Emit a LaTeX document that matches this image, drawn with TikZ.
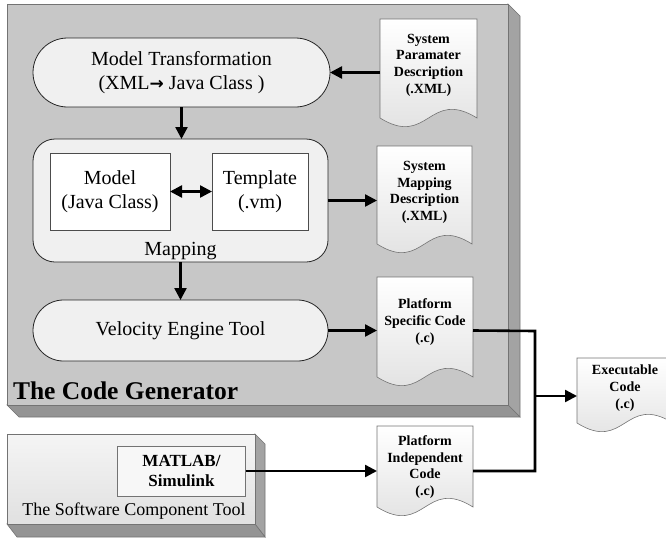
\documentclass[tikz,border=0pt]{standalone}
\usepackage{fontspec}
\setmainfont{Liberation Serif}
\newfontfamily\symfont{DejaVu Sans}
\usetikzlibrary{arrows.meta}

% document symbol with a wavy lower edge: left, top, right, wave line
\newcommand\docframe[4]{%
  \draw[docshape] (#1,#2) -- (#1,#4)
    .. controls ({(#1+#3)/2},{#4+30}) and ({(#1+#3)/2},{#4-30}) .. (#3,#4)
    -- (#3,#2) -- cycle;}

\begin{document}
\begin{tikzpicture}[x=1pt,y=-1pt,
  every node/.style={inner sep=0pt, outer sep=0pt},
  edgegray/.style={draw=black!55, line width=0.6pt},
  docshape/.style={edgegray, top color=white, bottom color=black!13},
  process/.style={draw=black!85, line width=0.8pt, fill=black!6,
    font=\fontsize{20}{24}\selectfont, align=center},
  plainbox/.style={draw=black!70, line width=0.7pt, fill=white,
    font=\fontsize{20}{24}\selectfont, align=center},
  doctext/.style={font=\bfseries\fontsize{14}{16.7}\selectfont, align=center},
  arr/.style={line width=2.4pt, -{Triangle[length=12pt,width=12pt]}},
  darr/.style={line width=2.4pt, {Triangle[length=12pt,width=12pt]}-{Triangle[length=12pt,width=12pt]}},
  wire/.style={line width=2.6pt}
]
\useasboundingbox (0,0) rectangle (666,538);

% ---- code generator block (3-D box) ----
\draw[edgegray, fill=black!36] (508,4) -- (520,16) -- (520,417) -- (508,405) -- cycle;
\draw[edgegray, fill=black!42] (7,405) -- (19,417) -- (520,417) -- (508,405) -- cycle;
\draw[edgegray, fill=black!22] (7,4) rectangle (508,405);

% ---- software component tool block (3-D box) ----
\draw[edgegray, fill=black!36] (255,434) -- (265,444) -- (265,537) -- (255,524) -- cycle;
\draw[edgegray, fill=black!42] (7,524) -- (17,537) -- (265,537) -- (255,524) -- cycle;
\draw[edgegray, top color=black!4, bottom color=black!12] (7,434) rectangle (255,524);

% ---- document outlines ----
\docframe{380}{19}{477}{118}
\docframe{377}{146}{472}{244}
\docframe{377}{277}{473}{377}
\docframe{577}{358}{673}{423}
\docframe{377}{426}{473}{507}

% ---- process nodes ----
\node[process, rounded corners=34.5pt, minimum width=297pt, minimum height=69pt]
  (mt) at (181.5,72.5) {Model Transformation\\(XML{\symfont\bfseries\fontsize{17}{20}\selectfont →} Java Class )};
\node[process, rounded corners=22pt, minimum width=295pt, minimum height=123pt]
  (map) at (180.5,200.5) {};
\node[plainbox, minimum width=120pt, minimum height=77pt]
  (model) at (110,191.5) {Model\\(Java Class)};
\node[plainbox, minimum width=96pt, minimum height=77pt]
  (tmpl) at (260,191.5) {Template\\(.vm)};
\node[anchor=base, font=\fontsize{20}{24}\selectfont] (maplbl) at (180.5,255) {Mapping};
\node[process, rounded corners=30.5pt, minimum width=295pt, minimum height=61pt]
  (vet) at (180.5,330.5) {Velocity Engine Tool};

\node[anchor=base west, font=\bfseries\fontsize{25.5}{30}\selectfont] (gen) at (13,399)
  {The Code Generator};

% ---- document texts ----
\node[doctext, minimum width=97pt] (spd) at (428.5,65) {System\\Paramater\\Description\\(.XML)};
\node[doctext, minimum width=95pt] (smd) at (424.5,192.5) {System\\Mapping\\Description\\(.XML)};
\node[doctext, minimum width=96pt] (psc) at (425,322) {Platform\\Specific Code\\(.c)};
\node[doctext, minimum width=96pt] (exe) at (625,388) {Executable\\Code\\(.c)};
\node[doctext, minimum width=96pt] (pic) at (425,467) {Platform\\Independent\\Code\\(.c)};

% ---- software component tool ----
\node[draw=black!55, line width=0.6pt, fill=black!3, minimum width=128pt, minimum height=50pt,
  align=center, font=\bfseries\fontsize{17}{20}\selectfont]
  (mat) at (181.5,471) {MATLAB/\\Simulink};
\node[anchor=base, font=\fontsize{18}{22}\selectfont] (swl) at (134,515)
  {The Software Component Tool};

% ---- connectors ----
\draw[arr] (mt.east -| spd.west) -- (mt.east);
\draw[arr] (mt.south) -- (mt.south |- map.north);
\draw[darr] (model.east) -- (tmpl.west);
\draw[arr] (map.east) -- (map.east -| smd.west);
\draw[arr] (map.south) -- (map.south |- vet.north);
\draw[arr] (vet.east) -- (vet.east -| psc.west);
\draw[arr] (mat.east) -- (mat.east -| pic.west);

\coordinate (j1) at (535,331);
\coordinate (j2) at (535,471);
\coordinate (jm) at (535,396);
\draw[wire] (psc.east |- vet.east) -- (j1) -- (j2) -- (pic.east |- mat.east);
\draw[arr] (jm) -- (jm -| exe.west);
\end{tikzpicture}
\end{document}
